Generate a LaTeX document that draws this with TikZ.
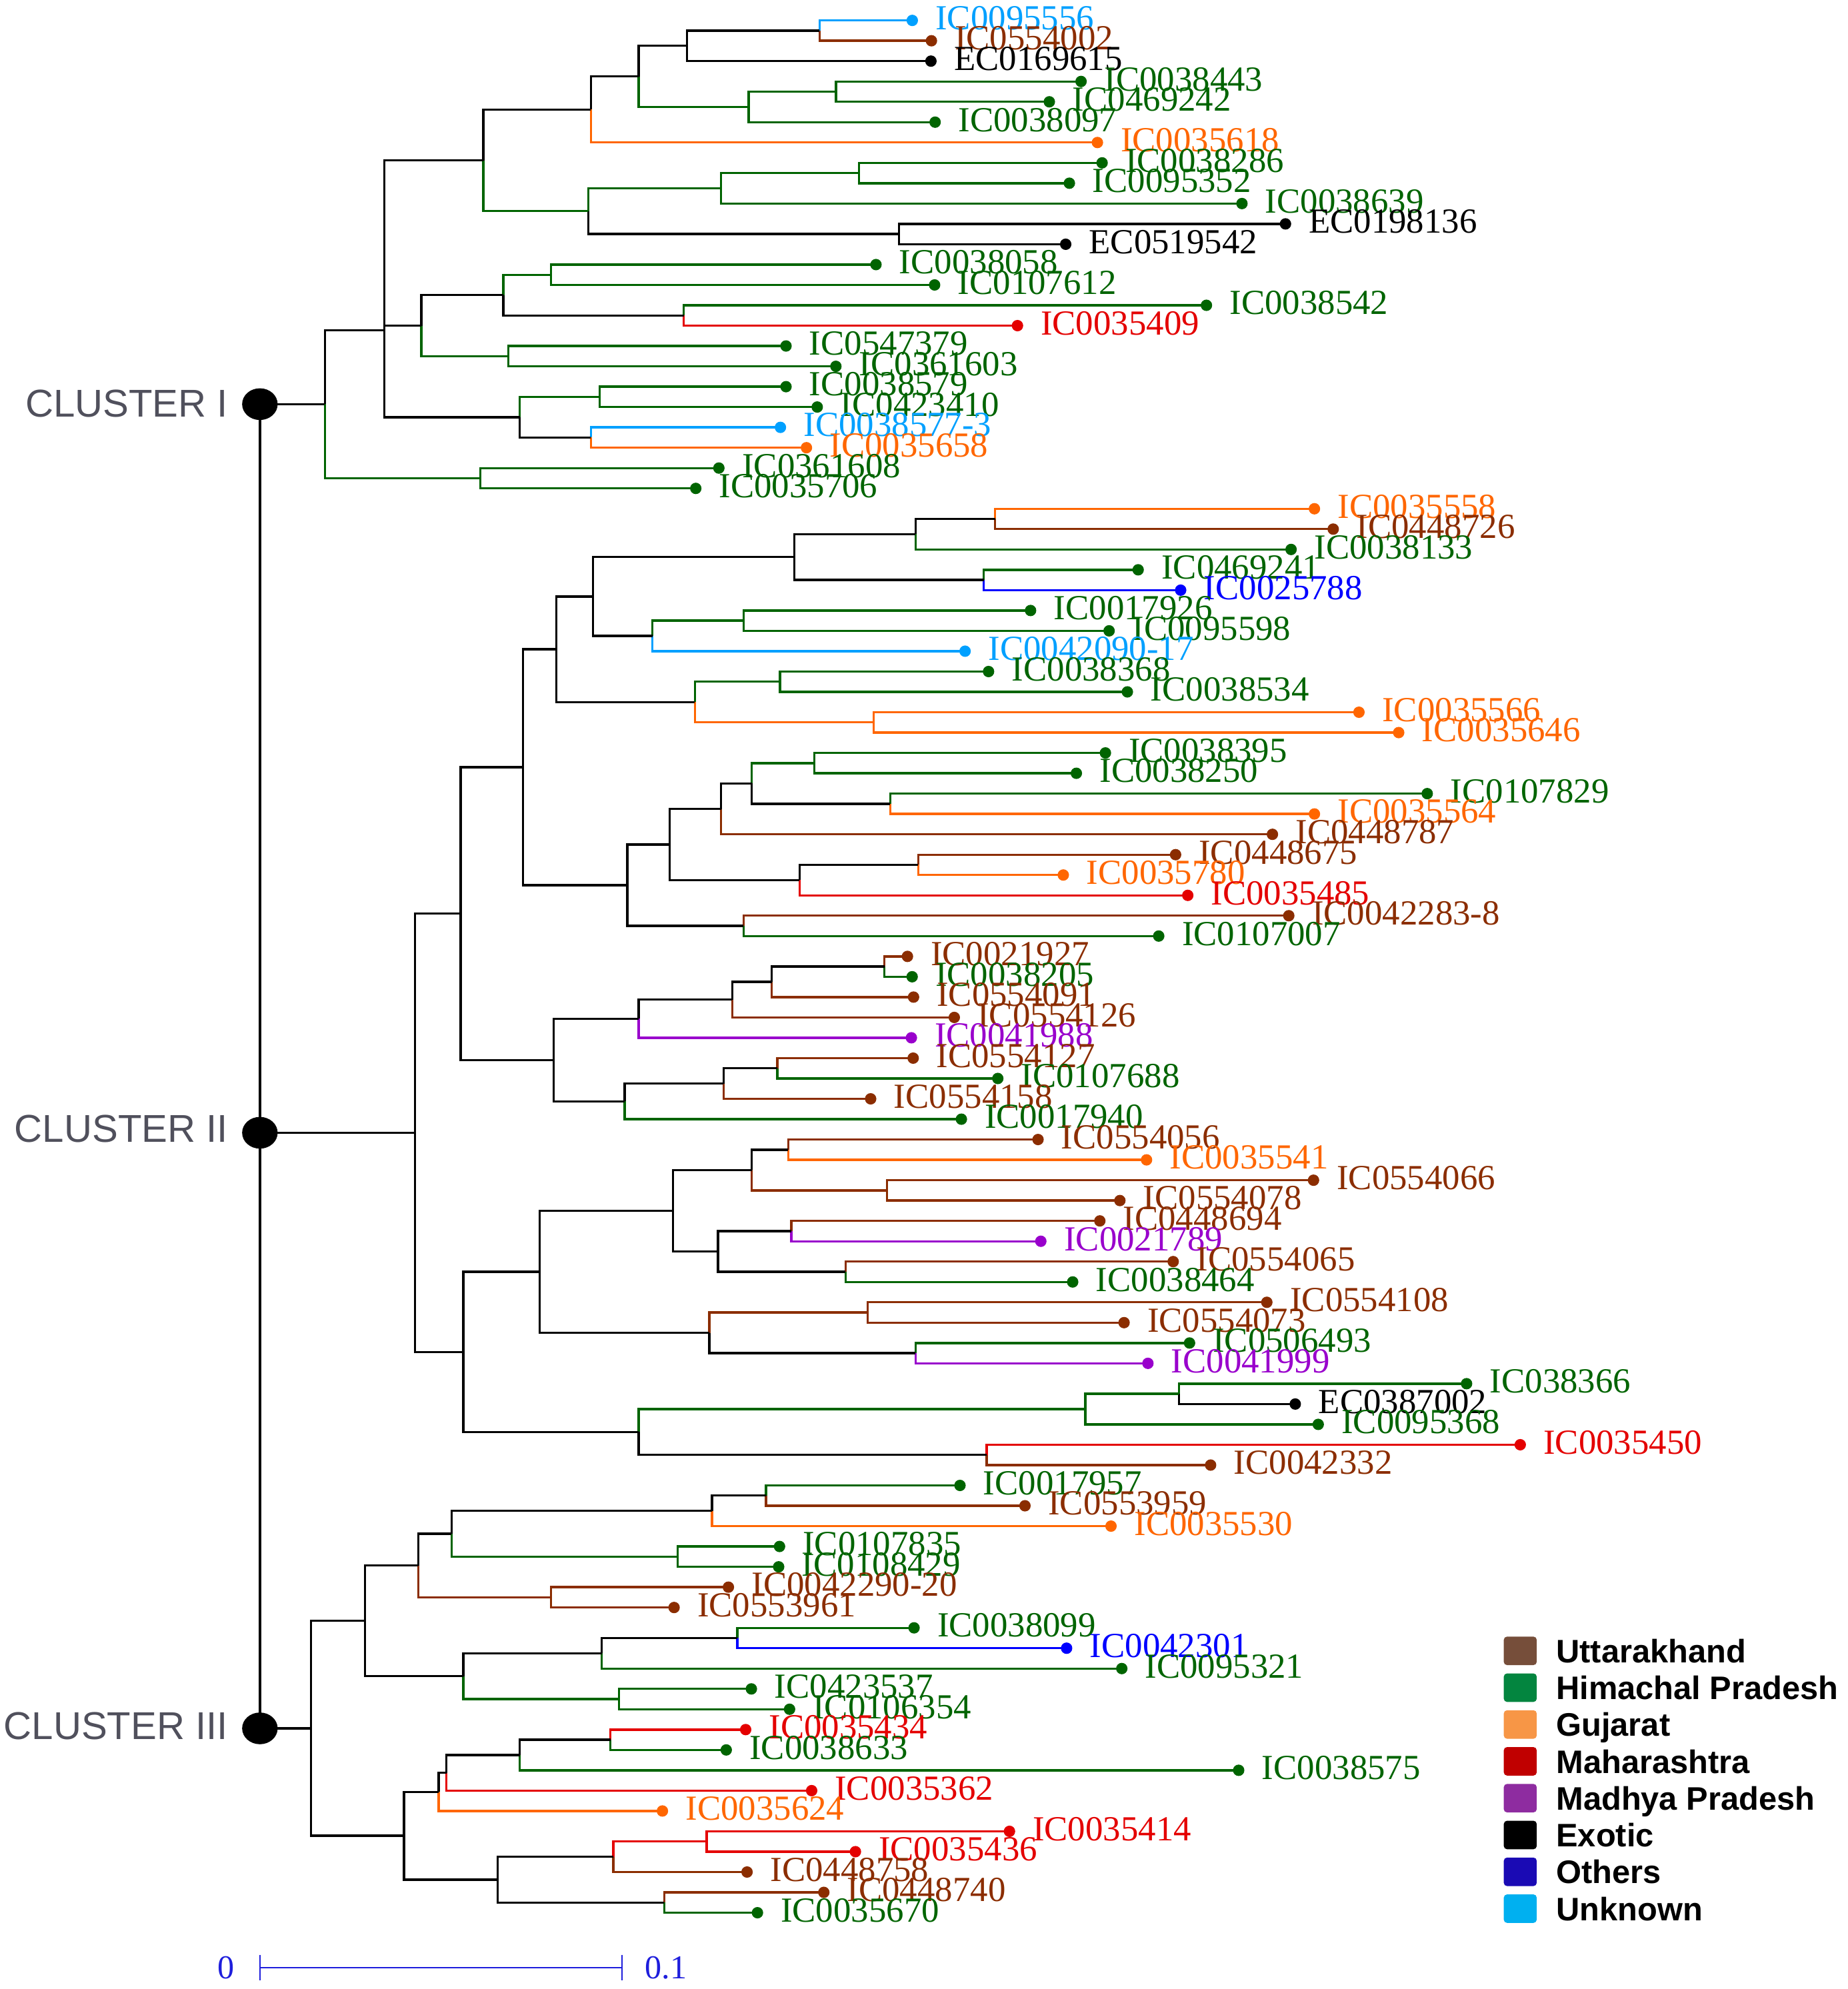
\documentclass[tikz,border=0pt]{standalone}
\usepackage{fontspec}
\setmainfont{Liberation Serif}
\newfontfamily\sansfont{Liberation Sans}
% branch colours
\definecolor{tU}{RGB}{139,45,0}
\definecolor{tH}{RGB}{0,100,0}
\definecolor{tG}{RGB}{255,102,0}
\definecolor{tM}{RGB}{228,0,0}
\definecolor{tP}{RGB}{153,0,204}
\definecolor{tE}{RGB}{0,0,0}
\definecolor{tO}{RGB}{0,0,255}
\definecolor{tK}{RGB}{0,160,255}
% legend colours
\definecolor{lU}{RGB}{118,78,58}
\definecolor{lH}{RGB}{3,133,63}
\definecolor{lG}{RGB}{247,150,70}
\definecolor{lM}{RGB}{192,0,0}
\definecolor{lP}{RGB}{142,44,160}
\definecolor{lE}{RGB}{0,0,0}
\definecolor{lO}{RGB}{26,10,180}
\definecolor{lK}{RGB}{0,176,240}
\definecolor{clgray}{RGB}{80,80,92}
\definecolor{sbblue}{RGB}{30,30,220}
\begin{document}
\begin{tikzpicture}[x=0.02cm, y=-0.3208cm,
    branch/.style={line width=1pt},
    lab/.style={anchor=west, inner sep=0pt, text height=0.37cm, text depth=0pt,
      font=\fontsize{15.8}{16}\selectfont},
    clab/.style={anchor=east, inner sep=0pt, text=clgray, text height=0.44cm, text depth=0pt,
      font=\sansfont\fontsize{17.4}{18}\selectfont},
    key/.style={fill=#1, minimum width=0.52cm, minimum height=0.45cm, inner sep=0pt, rounded corners=1.5pt},
    keytext/.style={anchor=west, inner sep=0pt, text height=0.37cm, text depth=0pt,
      font=\sansfont\bfseries\fontsize{14.6}{15}\selectfont}]
  \useasboundingbox (0,-1.0037) rectangle (1456,96.75);

  % Leaves
  \foreach \i/\x/\col/\lbl in {
      0/718.9/tK/IC0095556, 1/734.0/tU/IC0554002, 2/733.6/tE/EC0169615,
      3/851.9/tH/IC0038443, 4/826.9/tH/IC0469242, 5/736.9/tH/IC0038097,
      6/864.8/tG/IC0035618, 7/868.5/tH/IC0038286, 8/842.7/tH/IC0095352,
      9/978.7/tH/IC0038639, 10/1013.0/tE/EC0198136, 11/839.8/tE/EC0519542,
      12/690.3/tH/IC0038058, 13/736.5/tH/IC0107612, 14/950.7/tH/IC0038542,
      15/801.8/tM/IC0035409, 16/619.4/tH/IC0547379, 17/658.7/tH/IC0361603,
      18/619.4/tH/IC0038579, 19/644.0/tH/IC0423410, 20/615.0/tK/IC0038577-3,
      21/635.5/tG/IC0035658, 22/566.5/tH/IC0361608, 23/548.3/tH/IC0035706,
      24/1035.8/tG/IC0035558, 25/1050.6/tU/IC0448726, 26/1017.4/tH/IC0038133,
      27/896.9/tH/IC0469241, 28/930.4/tO/IC0025788, 29/812.1/tH/IC0017926,
      30/874.0/tH/IC0095598, 31/760.5/tK/IC0042090-17, 32/779.0/tH/IC0038368,
      33/888.4/tH/IC0038534, 34/1070.9/tG/IC0035566, 35/1102.2/tG/IC0035646,
      36/871.1/tH/IC0038395, 37/848.2/tH/IC0038250, 38/1124.7/tH/IC0107829,
      39/1035.8/tG/IC0035564, 40/1002.7/tU/IC0448787, 41/926.4/tU/IC0448675,
      42/837.9/tG/IC0035780, 43/936.0/tM/IC0035485, 44/1015.6/tU/IC0042283-8,
      45/913.1/tH/IC0107007, 46/715.1/tU/IC0021927, 47/718.8/tH/IC0038205,
      48/719.9/tU/IC0554091, 49/752.0/tU/IC0554126, 50/718.2/tP/IC0041988,
      51/719.6/tU/IC0554127, 52/786.3/tH/IC0107688, 53/686.1/tU/IC0554158,
      54/757.6/tH/IC0017940, 55/818.0/tU/IC0554056, 56/903.5/tG/IC0035541,
      57/1035.1/tU/IC0554066, 58/882.5/tU/IC0554078, 59/866.7/tU/IC0448694,
      60/820.2/tP/IC0021789, 61/924.5/tU/IC0554065, 62/845.3/tH/IC0038464,
      63/998.3/tU/IC0554108, 64/885.8/tU/IC0554073, 65/937.4/tH/IC0506493,
      66/904.6/tP/IC0041999, 67/1155.7/tH/IC038366, 68/1020.7/tE/EC0387002,
      69/1038.8/tH/IC0095368, 70/1198.0/tM/IC0035450, 71/954.0/tU/IC0042332,
      72/756.5/tH/IC0017957, 73/807.7/tU/IC0553959, 74/875.5/tG/IC0035530,
      75/614.3/tH/IC0107835, 76/613.6/tH/IC0108429, 77/574.0/tU/IC0042290-20,
      78/531.2/tU/IC0553961, 79/720.3/tH/IC0038099, 80/840.5/tO/IC0042301,
      81/884.0/tH/IC0095321, 82/592.1/tH/IC0423537, 83/622.2/tH/IC0106354,
      84/587.6/tM/IC0035434, 85/572.3/tH/IC0038633, 86/976.1/tH/IC0038575,
      87/639.6/tM/IC0035362, 88/522.0/tG/IC0035624, 89/795.5/tM/IC0035414,
      90/674.1/tM/IC0035436, 91/588.7/tU/IC0448758, 92/649.2/tU/IC0448740,
      93/596.9/tH/IC0035670}{
    \coordinate (s\i) at (\x,\i);
    \fill[\col] (s\i) circle (0.09cm);
    \node[lab, text=\col] (t\i) at ([xshift=0.36cm, yshift=0.04cm]s\i) {\lbl};
  }

  % Inner nodes
  \foreach \nm/\x/\y in {
      a1/645.8/0.5, a2/541.5/1.25, a3/658.7/3.5, a4/590.0/4.25, a5/503.2/2.75,
      a6/465.6/4.375, b1/676.8/7.5, b2/568.2/8.25, b3/708.3/10.5, b4/463.6/9.375,
      a7/380.9/6.875, d1/434.2/12.5, d2/538.8/14.5, d3/396.6/13.5, d4/400.7/16.5,
      d5/332.0/15, n2/302.9/10.9375, c1/472.5/18.5, c2/465.6/20.5, c3/409.6/19.5,
      n1/302.9/15.21875, e1/378.5/22.5, r1/256.1/18.859,
      f0/784.1/24.5, f1/721.4/25.25, f2/775.3/27.5, f3/625.9/26.375, f4/585.9/29.5,
      f5/514.2/30.25, f6/467.3/28.3125, g1/614.6/32.5, g2/688.5/34.5, g3/547.6/33.5,
      f7/438.3/30.906, h1/641.6/36.5, h2/701.5/38.5, h3/592.4/37.5, h4/568.2/38.75,
      h5/723.6/41.5, h6/630.0/42.25, h7/527.8/40.5, h8/585.9/44.5, h9/494.3/42.5,
      f8/412.3/36.703, j1/697.0/46.5, j2/608.2/47.25, j3/577.0/48.125,
      j4/503.2/49.0625, j5/612.6/51.5, j6/570.2/52.25, j7/492.3/53.125,
      j8/436.2/51.094, f9/363.1/43.898, k1/621.1/55.5, k2/699.0/57.5, k3/592.4/56.5,
      k4/623.5/59.5, k5/666.3/61.5, k6/565.8/60.5, k7/530.2/58.5, k8/683.7/63.5,
      k9/721.4/65.5, k10/558.9/64.5, k11/425.3/61.5, l1/929.0/67.5, l2/855.2/68.25,
      l3/777.5/70.5, l4/503.2/69.375, k12/365.1/65.4375, f10/327.2/54.668,
      m1/603.7/72.5, m2/561.0/73.25, m3/534.0/75.5, m4/355.9/74.375, m5/434.2/77.5,
      m6/329.6/75.9375, o1/581.1/79.5, o2/474.2/80.25, o3/487.8/82.5,
      o4/365.1/81.375, m7/287.5/78.656, p1/481.0/84.5, p2/409.6/85.25,
      p3/351.8/86.125, p4/345.6/87.0625, q1/556.9/89.5, q2/483.4/90.25,
      q3/523.4/92.5, q4/392.1/91.375, p5/318.3/89.219, r3/245.2/83.94}{
    \coordinate (\nm) at (\x,\y);
  }

  % Branches
  \foreach \p/\q/\col in {
      a1/s0/tK, a1/s1/tU, a2/a1/tE, a2/s2/tE, a3/s3/tH, a3/s4/tH, a4/a3/tH, a4/s5/tH,
      a5/a2/tE, a5/a4/tH, a6/a5/tE, a6/s6/tG, b1/s7/tH, b1/s8/tH, b2/b1/tH, b2/s9/tH,
      b3/s10/tE, b3/s11/tE, b4/b2/tH, b4/b3/tE, a7/a6/tE, a7/b4/tH,
      d1/s12/tH, d1/s13/tH, d2/s14/tH, d2/s15/tM, d3/d1/tH, d3/d2/tE,
      d4/s16/tH, d4/s17/tH, d5/d3/tE, d5/d4/tH, n2/a7/tE, n2/d5/tE,
      c1/s18/tH, c1/s19/tH, c2/s20/tK, c2/s21/tG, c3/c1/tH, c3/c2/tE,
      n1/n2/tE, n1/c3/tE, e1/s22/tH, e1/s23/tH, r1/n1/tE, r1/e1/tH,
      f0/s24/tG, f0/s25/tU, f1/f0/tE, f1/s26/tH, f2/s27/tH, f2/s28/tO,
      f3/f1/tE, f3/f2/tE, f4/s29/tH, f4/s30/tH, f5/f4/tH, f5/s31/tK,
      f6/f3/tE, f6/f5/tE, g1/s32/tH, g1/s33/tH, g2/s34/tG, g2/s35/tG,
      g3/g1/tH, g3/g2/tG, f7/f6/tE, f7/g3/tE,
      h1/s36/tH, h1/s37/tH, h2/s38/tH, h2/s39/tG, h3/h1/tH, h3/h2/tE,
      h4/h3/tE, h4/s40/tU, h5/s41/tU, h5/s42/tG, h6/h5/tE, h6/s43/tM,
      h7/h4/tE, h7/h6/tE, h8/s44/tU, h8/s45/tH, h9/h7/tE, h9/h8/tE,
      f8/f7/tE, f8/h9/tE,
      j1/s46/tU, j1/s47/tH, j2/j1/tE, j2/s48/tU, j3/j2/tE, j3/s49/tU,
      j4/j3/tE, j4/s50/tP, j5/s51/tU, j5/s52/tH, j6/j5/tE, j6/s53/tU,
      j7/j6/tE, j7/s54/tH, j8/j4/tE, j8/j7/tE, f9/f8/tE, f9/j8/tE,
      k1/s55/tU, k1/s56/tG, k2/s57/tU, k2/s58/tU, k3/k1/tE, k3/k2/tU,
      k4/s59/tU, k4/s60/tP, k5/s61/tU, k5/s62/tH, k6/k4/tE, k6/k5/tE,
      k7/k3/tE, k7/k6/tE, k8/s63/tU, k8/s64/tU, k9/s65/tH, k9/s66/tP,
      k10/k8/tU, k10/k9/tE, k11/k7/tE, k11/k10/tE,
      l1/s67/tH, l1/s68/tE, l2/l1/tH, l2/s69/tH, l3/s70/tM, l3/s71/tU,
      l4/l2/tH, l4/l3/tE, k12/k11/tE, k12/l4/tE, f10/f9/tE, f10/k12/tE,
      m1/s72/tH, m1/s73/tU, m2/m1/tE, m2/s74/tG, m3/s75/tH, m3/s76/tH,
      m4/m2/tE, m4/m3/tH, m5/s77/tU, m5/s78/tU, m6/m4/tE, m6/m5/tU,
      o1/s79/tH, o1/s80/tO, o2/o1/tE, o2/s81/tH, o3/s82/tH, o3/s83/tH,
      o4/o2/tE, o4/o3/tH, m7/m6/tE, m7/o4/tE,
      p1/s84/tM, p1/s85/tH, p2/p1/tE, p2/s86/tH, p3/p2/tE, p3/s87/tM,
      p4/p3/tE, p4/s88/tG, q1/s89/tM, q1/s90/tM, q2/q1/tM, q2/s91/tU,
      q3/s92/tU, q3/s93/tH, q4/q2/tE, q4/q3/tE, p5/p4/tE, p5/q4/tE,
      r3/m7/tE, r3/p5/tE}{
    \draw[branch, \col] (\p) |- (\q);
  }

  % Clusters
  \coordinate (cI) at (204.8,18.859);
  \coordinate (cII) at (204.8,54.668);
  \coordinate (cIII) at (204.8,83.94);
  \draw[branch] (cI) -- (cIII);
  \draw[branch] (cI) -- (r1);
  \draw[branch] (cII) -- (f10);
  \draw[branch] (cIII) -- (r3);
  \fill (cI) ellipse (0.28cm and 0.25cm);
  \fill (cII) ellipse (0.28cm and 0.25cm);
  \fill (cIII) ellipse (0.28cm and 0.25cm);
  \node[clab] (lI) at (180,18.8) {CLUSTER I};
  \node[clab] (lII) at (180,54.45) {CLUSTER II};
  \node[clab] (lIII) at (180,83.8) {CLUSTER III};

  % Legend
  \foreach \col/\txt [count=\i from 0] in {lU/Uttarakhand, lH/Himachal Pradesh,
      lG/Gujarat, lM/Maharashtra, lP/Madhya Pradesh, lE/Exotic, lO/Others, lK/Unknown}{
    \node[key=\col] (key\i) at (1198,{80.13+1.81*\i}) {};
    \node[keytext] (keyt\i) at (1226,{80.13+1.81*\i}) {\txt};
  }

  % Scale bar
  \coordinate (sb0) at (204.8,95.69);
  \coordinate (sb1) at (490.2,95.69);
  \draw[sbblue, line width=0.6pt] (sb0) -- (sb1);
  \draw[sbblue, line width=0.6pt] ([yshift=0.2cm]sb0) -- ([yshift=-0.2cm]sb0);
  \draw[sbblue, line width=0.6pt] ([yshift=0.2cm]sb1) -- ([yshift=-0.2cm]sb1);
  \node[inner sep=0pt, text=sbblue, font=\fontsize{15}{15}\selectfont] (z0) at (178,95.69) {0};
  \node[anchor=west, inner sep=0pt, text=sbblue, font=\fontsize{15}{15}\selectfont] (z1) at (508,95.69) {0.1};
\end{tikzpicture}
\end{document}
